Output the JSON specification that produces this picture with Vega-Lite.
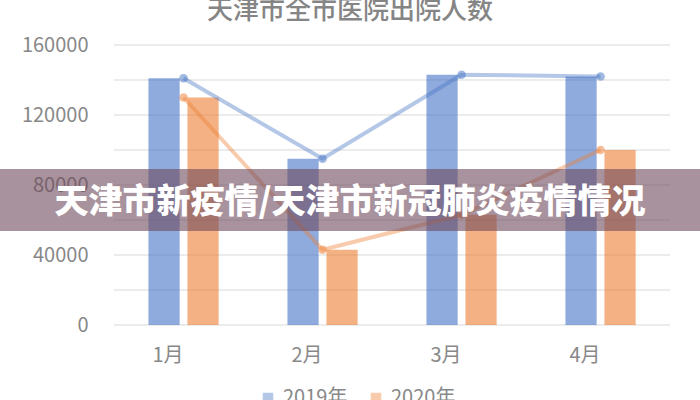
{
  "$schema": "https://vega.github.io/schema/vega-lite/v6.json",
  "width": 700,
  "height": 280,
  "autosize": {"type": "none"},
  "padding": {"left": 0, "right": 0, "top": 45, "bottom": 75},
  "background": "white",
  "config": {"view": {"stroke": null}, "font": "Noto Sans CJK SC"},
  "title": {
    "text": "天津市全市医院出院人数",
    "fontSize": 26,
    "fontWeight": 500,
    "color": "#858585",
    "anchor": "middle",
    "offset": 11
  },
  "datasets": {
    "discharges": [
      {"month": "1月", "year": "2019年", "value": 141000},
      {"month": "2月", "year": "2019年", "value": 95000},
      {"month": "3月", "year": "2019年", "value": 143000},
      {"month": "4月", "year": "2019年", "value": 142000},
      {"month": "1月", "year": "2020年", "value": 130000},
      {"month": "2月", "year": "2020年", "value": 43000},
      {"month": "3月", "year": "2020年", "value": 63000},
      {"month": "4月", "year": "2020年", "value": 100000}
    ],
    "grid": [
      {"tick": 0}, {"tick": 20000}, {"tick": 40000}, {"tick": 60000}, {"tick": 80000},
      {"tick": 100000}, {"tick": 120000}, {"tick": 140000}, {"tick": 160000}
    ],
    "banner": [
      {"caption": "天津市新疫情/天津市新冠肺炎疫情情况"}
    ]
  },
  "data": {"name": "discharges"},
  "layer": [
    {
      "data": {"name": "grid"},
      "mark": {"type": "rule", "color": "#d9d9d9", "strokeWidth": 1},
      "encoding": {
        "y": {"field": "tick", "type": "quantitative"},
        "x": {"datum": "1月", "type": "nominal", "bandPosition": 0},
        "x2": {"datum": "4月", "bandPosition": 1}
      }
    },
    {
      "mark": {"type": "bar", "opacity": 0.6},
      "encoding": {
        "x": {
          "field": "month",
          "type": "nominal",
          "sort": null,
          "scale": {"domain": ["1月", "2月", "3月", "4月"], "paddingInner": 0, "paddingOuter": 0.518, "align": 0.792},
          "axis": {"title": null, "domain": false, "ticks": false, "grid": false, "labelAngle": 0, "labelPadding": 30, "labelFontSize": 20, "labelColor": "#888888"}
        },
        "xOffset": {
          "field": "year",
          "type": "nominal",
          "scale": {"paddingInner": 0.2, "paddingOuter": 0.882}
        },
        "y": {
          "field": "value",
          "type": "quantitative",
          "scale": {"domain": [0, 160000], "nice": false},
          "axis": {"title": null, "domain": false, "ticks": false, "grid": false, "offset": -88, "labelPadding": 0, "format": "d", "labelOverlap": false, "values": [0, 20000, 40000, 60000, 80000, 100000, 120000, 140000, 160000], "labelFontSize": 20, "labelColor": "#888888"}
        },
        "color": {
          "field": "year",
          "type": "nominal",
          "scale": {"domain": ["2019年", "2020年"], "range": ["#4472C4", "#ED7D31"]},
          "legend": {
            "orient": "none", "legendX": 258, "legendY": 343, "direction": "horizontal", "title": null,
            "symbolType": "square", "symbolSize": 110, "symbolOpacity": 0.6, "symbolStrokeWidth": 0,
            "labelFontSize": 20, "labelColor": "#888888", "columnPadding": 18, "labelOffset": 5
          }
        }
      }
    },
    {
      "mark": {"type": "line", "strokeWidth": 4, "opacity": 0.4},
      "encoding": {
        "x": {"field": "month", "type": "nominal"},
        "y": {"field": "value", "type": "quantitative"},
        "color": {"field": "year", "type": "nominal"}
      }
    },
    {
      "mark": {"type": "point", "filled": true, "size": 75, "opacity": 0.5},
      "encoding": {
        "x": {"field": "month", "type": "nominal"},
        "y": {"field": "value", "type": "quantitative"},
        "color": {"field": "year", "type": "nominal"}
      }
    },
    {
      "data": {"name": "banner"},
      "mark": {"type": "rect", "color": "#6e4a5c", "opacity": 0.6},
      "encoding": {
        "y": {"datum": 89100, "type": "quantitative"},
        "y2": {"datum": 53700}
      }
    },
    {
      "data": {"name": "banner"},
      "mark": {"type": "text", "color": "white", "fontSize": 34, "fontWeight": 900, "align": "center", "baseline": "middle"},
      "encoding": {
        "y": {"datum": 70000, "type": "quantitative"},
        "text": {"field": "caption", "type": "nominal"}
      }
    }
  ]
}
